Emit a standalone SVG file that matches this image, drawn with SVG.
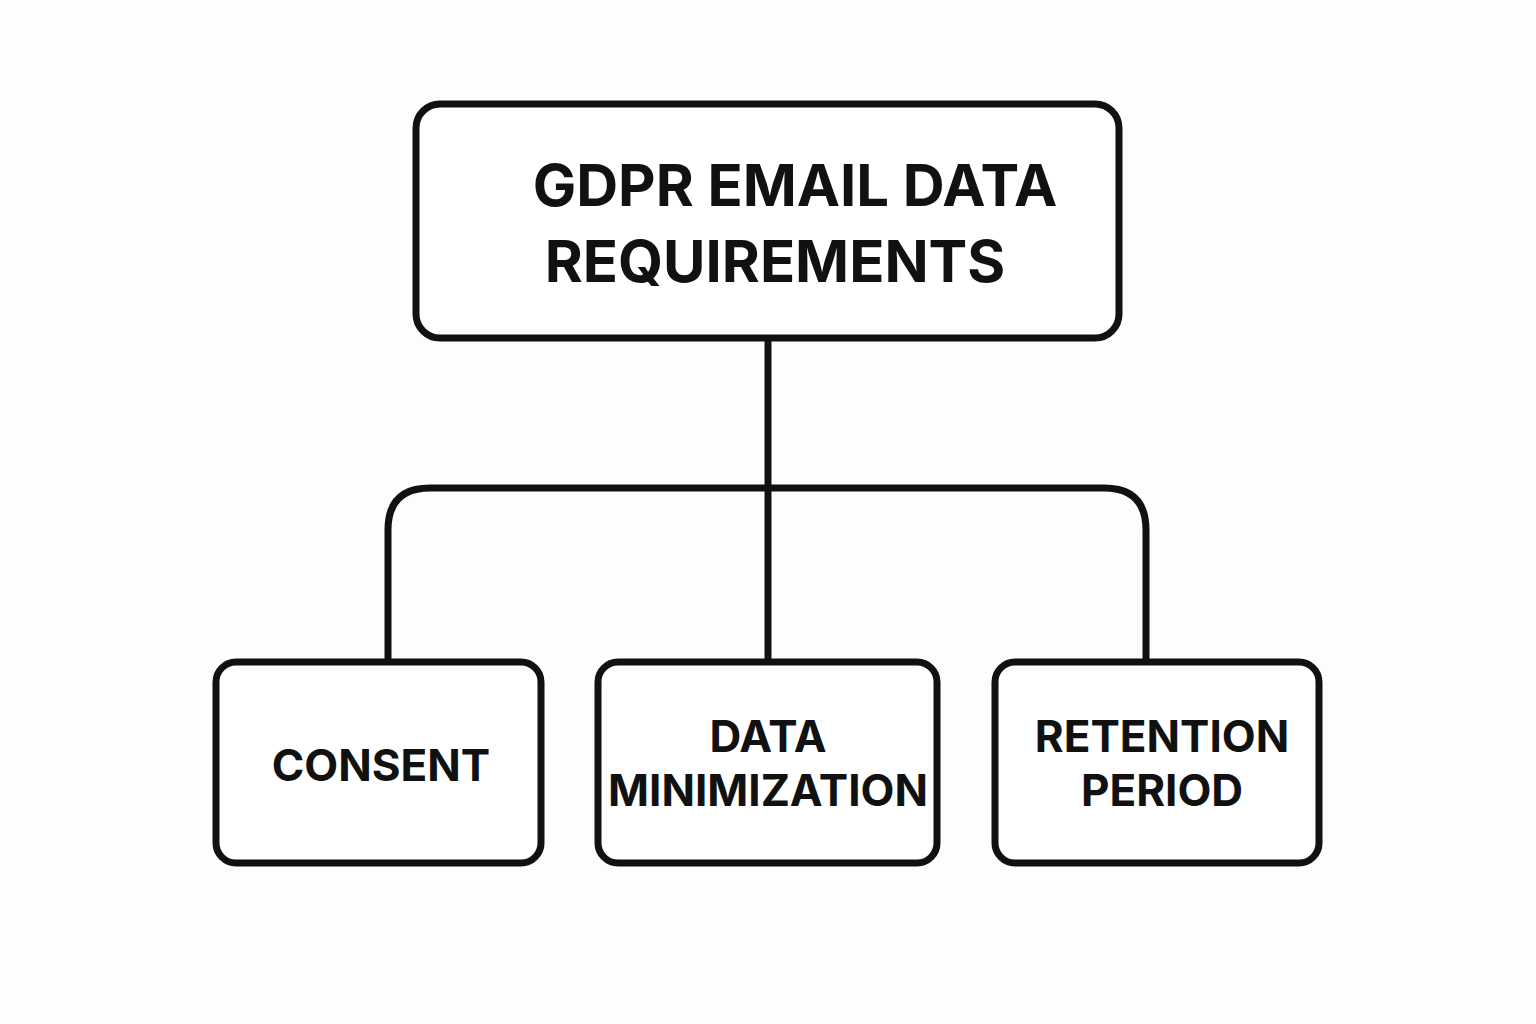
<svg xmlns="http://www.w3.org/2000/svg" width="1536" height="1024" viewBox="0 0 1536 1024">
<style>
.box{fill:#fff;stroke:#111;stroke-width:7}
.ln{fill:none;stroke:#111;stroke-width:7}
text{font-family:"Inter","Liberation Sans",sans-serif;font-weight:700;fill:#111;text-anchor:middle}
.t{font-size:58px}
.s{font-size:44px}
</style>
<rect width="1536" height="1024" fill="#fdfdfd"/>
<g id="connectors">
<path class="ln" d="M768 338V660"/>
<path class="ln" d="M388 660V530Q388 488 430 488H1104Q1146 488 1146 530V660"/>
</g>
<g id="root"><rect class="box" x="416" y="104" width="703" height="234" rx="24"/>
<text class="t" x="795" y="206">GDPR EMAIL DATA</text><text class="t" x="775" y="282">REQUIREMENTS</text></g>
<g id="consent"><rect class="box" x="216" y="662" width="325" height="201" rx="20"/>
<text class="s" x="381" y="781">CONSENT</text></g>
<g id="minimization"><rect class="box" x="598" y="662" width="339" height="201" rx="20"/>
<text class="s" x="768" y="752">DATA</text><text class="s" x="768" y="806">MINIMIZATION</text></g>
<g id="retention"><rect class="box" x="995" y="662" width="324" height="201" rx="20"/>
<text class="s" x="1162" y="752">RETENTION</text><text class="s" x="1162" y="806">PERIOD</text></g>
</svg>
